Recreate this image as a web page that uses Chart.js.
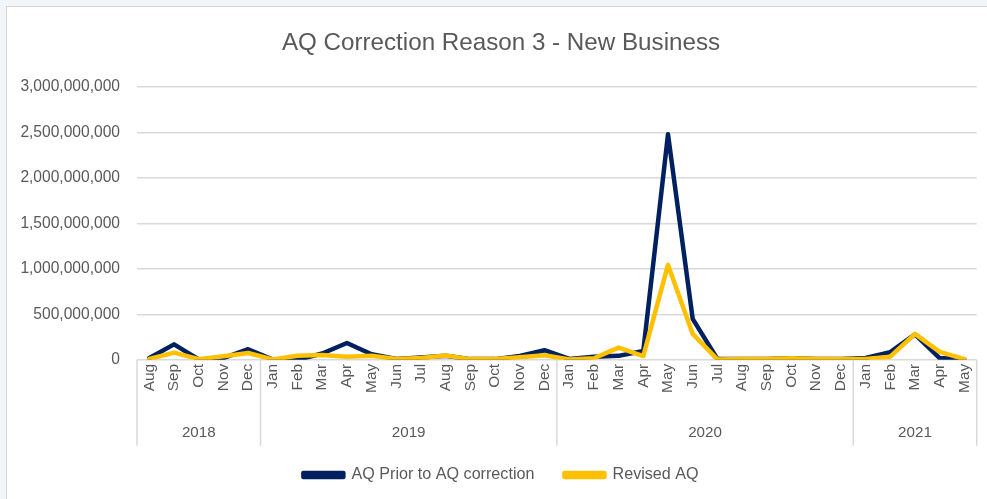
<!DOCTYPE html>
<html><head><meta charset="utf-8">
<script src="https://cdn.jsdelivr.net/npm/chart.js@4/dist/chart.umd.min.js"></script>
<style>html,body{margin:0;padding:0;background:#f3f6f9;overflow:hidden}canvas{display:block}</style>
</head><body>
<canvas id="c" width="987" height="499"></canvas>
<script>
// ---- data ----
const titleText = 'AQ Correction Reason 3 - New Business';
const months = ['Aug','Sep','Oct','Nov','Dec',
  'Jan','Feb','Mar','Apr','May','Jun','Jul','Aug','Sep','Oct','Nov','Dec',
  'Jan','Feb','Mar','Apr','May','Jun','Jul','Aug','Sep','Oct','Nov','Dec',
  'Jan','Feb','Mar','Apr','May'];
const years = ['2018','2019','2020','2021'];
const monthsPerYear = [5,12,12,5];
const priorAQ = [
  20e6,170e6,5e6,20e6,117e6,
  3e6,0,70e6,185e6,62e6,10e6,25e6,45e6,8e6,8e6,42e6,106e6,
  10e6,33e6,44e6,98e6,2480e6,450e6,10e6,8e6,8e6,18e6,8e6,8e6,
  20e6,85e6,280e6,20e6,3e6];
const revisedAQ = [
  10e6,80e6,8e6,40e6,75e6,
  5e6,44e6,52e6,33e6,44e6,10e6,20e6,48e6,8e6,8e6,28e6,51e6,
  5e6,18e6,135e6,40e6,1045e6,285e6,5e6,8e6,8e6,18e6,8e6,8e6,
  10e6,35e6,285e6,88e6,8e6];
const seriesNames = ['AQ Prior to AQ correction','Revised AQ'];
const yMin = 0, yMax = 3000000000, yStep = 500000000;

// ---- font detection ----
const mctx = document.createElement('canvas').getContext('2d');
function hasFont(f){
  const s='abcdefghijklmnopqrstuvwxyz0123456789';
  mctx.font='40px monospace'; const a=mctx.measureText(s).width;
  mctx.font='40px "'+f+'", monospace'; const b=mctx.measureText(s).width;
  return Math.abs(a-b)>1;
}
const narrow = hasFont('Liberation Sans Narrow');
const FAMILY = narrow ? '"Liberation Sans Narrow", "Liberation Sans", sans-serif' : '"Liberation Sans", Arial, sans-serif';
const K = narrow ? 1 : 0.82;
const TXT = '#595959';
const GRID = '#d9d9d9';

const decor = {
  id:'decor',
  afterLayout(chart){
    // Excel centres title/legend over the chart frame, slightly right of canvas centre
    if (chart.titleBlock) chart.titleBlock.left += 24;
    if (chart.legend) chart.legend.left += 24;
  },
  beforeDraw(chart){
    const c = chart.ctx;
    c.save();
    c.fillStyle = '#f3f6f9';
    c.fillRect(0,0,chart.width,chart.height);
    c.fillStyle = '#ffffff';
    c.fillRect(6,6,chart.width+20,chart.height+20);
    c.strokeStyle = '#d4d4d4'; c.lineWidth = 1;
    c.strokeRect(6.5,6.5,chart.width+20,chart.height+20);
    c.restore();
  },
  afterDraw(chart){
    const c = chart.ctx, x = chart.scales.x, area = chart.chartArea;
    const half = (x.getPixelForValue(1)-x.getPixelForValue(0))/2;
    c.save();
    c.strokeStyle = GRID; c.lineWidth = 1.5;
    let idx = 0;
    const bounds = [0];
    monthsPerYear.forEach(n=>{ idx+=n; bounds.push(idx); });
    bounds.forEach(b=>{
      const px = b < months.length ? x.getPixelForValue(b)-half : x.getPixelForValue(months.length-1)+half;
      c.beginPath(); c.moveTo(px, area.bottom); c.lineTo(px, area.bottom+86); c.stroke();
    });
    c.fillStyle = TXT;
    c.font = (18.5*K)+'px '+FAMILY;
    c.textAlign = 'center'; c.textBaseline = 'middle';
    years.forEach((y,i)=>{
      const a = x.getPixelForValue(bounds[i])-half;
      const b = x.getPixelForValue(bounds[i+1]-1)+half;
      c.fillText(y,(a+b)/2, area.bottom+73);
    });
    c.restore();
  }
};

new Chart(document.getElementById('c'), {
  type:'line',
  data:{
    labels: months,
    datasets:[
      {label:seriesNames[0], data:priorAQ, order:1, borderColor:'#002060', backgroundColor:'#002060', borderWidth:4.5, pointRadius:0, tension:0, borderJoinStyle:'round', borderCapStyle:'round'},
      {label:seriesNames[1], data:revisedAQ, order:0, borderColor:'#FFC000', backgroundColor:'#FFC000', borderWidth:4.5, pointRadius:0, tension:0, borderJoinStyle:'round', borderCapStyle:'round'}
    ]
  },
  options:{
    responsive:false, animation:false,
    layout:{padding:{left:0,right:9,top:0,bottom:6}},
    plugins:{
      title:{display:true, text:titleText, color:TXT, font:{family:FAMILY, size:29.5*K, weight:'normal'}, padding:{top:29,bottom:29}},
      legend:{position:'bottom', labels:{color:TXT, font:{family:FAMILY, size:19.7*K}, boxWidth:40, boxHeight:4, padding:30,
        sort:(a,b)=>a.datasetIndex-b.datasetIndex}},
      tooltip:{enabled:false}
    },
    scales:{
      x:{
        offset:true,
        grid:{display:false, drawTicks:false},
        border:{display:false},
        ticks:{color:TXT, font:{family:FAMILY, size:18.8*K}, autoSkip:false, maxRotation:90, minRotation:90, padding:4},
        afterFit(s){ s.height = 77; }
      },
      y:{
        min:yMin, max:yMax,
        grid:{color:GRID, lineWidth:1.5, drawTicks:false},
        border:{display:false},
        ticks:{stepSize:yStep, color:TXT, font:{family:FAMILY, size:19*K}, padding:17,
          callback:v=>Number(v).toLocaleString('en-US')},
        afterFit(s){ s.width = 137; }
      }
    }
  },
  plugins:[decor]
});
</script>
</body></html>
